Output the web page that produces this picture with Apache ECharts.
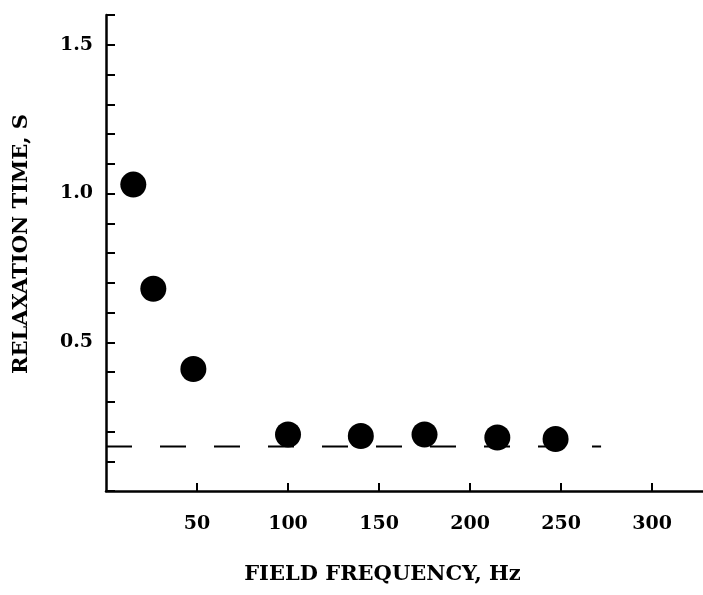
<!DOCTYPE html>
<html>
<head>
<meta charset="utf-8">
<script src="https://cdn.jsdelivr.net/npm/echarts@6/dist/echarts.min.js"></script>
<style>
  html, body { margin: 0; padding: 0; background: #fff; }
  #chart { width: 703px; height: 595px; }
</style>
</head>
<body>
<div id="chart"></div>
<script>
// field frequency (Hz) and relaxation time (s)
const frequency = [15, 26, 48, 100, 140, 175, 215, 247];
const relaxation = [1.03, 0.68, 0.41, 0.19, 0.185, 0.19, 0.18, 0.175];
// dashed reference level
const levelX = [0, 272];
const levelY = [0.15, 0.15];
// tick labels shown on the axes
const xTickLabels = [50, 100, 150, 200, 250, 300];
const yTickLabels = [0.5, 1.0, 1.5];

const font = '"DejaVu Serif", "Liberation Serif", serif';
const mychart = echarts.init(document.getElementById("chart"));

const option = {
  animation: false,
  grid: { left: 106, right: 0, top: 15, bottom: 104 },
  xAxis: {
    type: "value",
    min: 0,
    max: 328,
    interval: 50,
    name: "FIELD FREQUENCY, Hz",
    nameLocation: "middle",
    nameGap: 73,
    nameTextStyle: {
      fontFamily: font, fontWeight: "bold", fontSize: 21, color: "#000",
      padding: [0, 44, 0, 0],
    },
    axisLine: { show: true, lineStyle: { color: "#000", width: 2.5 } },
    axisTick: {
      show: true, inside: true, length: 8, customValues: xTickLabels,
      lineStyle: { color: "#000", width: 2 },
    },
    axisLabel: {
      margin: 24, customValues: xTickLabels,
      fontFamily: font, fontWeight: "bold", fontSize: 19, color: "#000",
    },
    splitLine: { show: false },
  },
  yAxis: {
    type: "value",
    min: 0,
    max: 1.6,
    interval: 0.1,
    name: "RELAXATION TIME, S",
    nameLocation: "middle",
    nameGap: 74,
    nameTextStyle: {
      fontFamily: font, fontWeight: "bold", fontSize: 21, color: "#000",
      padding: [0, 0, 0, 18],
    },
    axisLine: { show: true, lineStyle: { color: "#000", width: 2.5 } },
    axisTick: { show: true, inside: true, length: 9, lineStyle: { color: "#000", width: 2 } },
    axisLabel: {
      margin: 13,
      fontFamily: font, fontWeight: "bold", fontSize: 19, color: "#000",
      formatter: (v) => {
        const hit = yTickLabels.find((t) => Math.abs(t - v) < 1e-6);
        return hit !== undefined ? hit.toFixed(1) : "";
      },
    },
    splitLine: { show: false },
  },
  series: [
    {
      name: "level",
      type: "line",
      data: levelX.map((x, i) => [x, levelY[i]]),
      symbol: "none",
      lineStyle: { color: "#000", width: 2, type: [26, 28] },
      z: 1,
    },
    {
      name: "relaxation",
      type: "scatter",
      data: frequency.map((f, i) => [f, relaxation[i]]),
      symbol: "circle",
      symbolSize: 26,
      itemStyle: { color: "#000", opacity: 1 },
      z: 3,
    },
  ],
};
mychart.setOption(option);
</script>
</body>
</html>
